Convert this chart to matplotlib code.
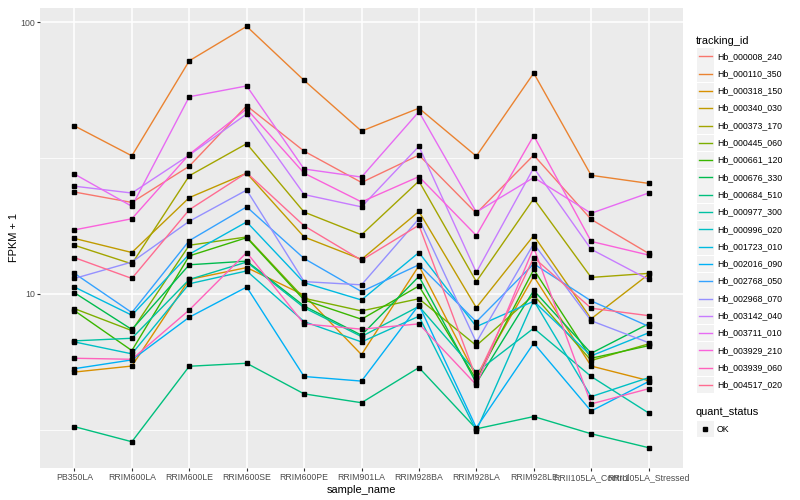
import numpy as np
import matplotlib.pyplot as plt
from matplotlib.lines import Line2D
from matplotlib.patches import Rectangle
from matplotlib.ticker import NullFormatter

plt.rcParams['font.family'] = ['Liberation Sans', 'DejaVu Sans']

samples = ["PB350LA", "RRIM600LA", "RRIM600LE", "RRIM600SE", "RRIM600PE", "RRIM901LA",
           "RRIM928BA", "RRIM928LA", "RRIM928LE", "RRII105LA_Control", "RRII105LA_Stressed"]

tracking_ids = ["Hb_000008_240", "Hb_000110_350", "Hb_000318_150", "Hb_000340_030",
                "Hb_000373_170", "Hb_000445_060", "Hb_000661_120", "Hb_000676_330",
                "Hb_000684_510", "Hb_000977_300", "Hb_000996_020", "Hb_001723_010",
                "Hb_002016_090", "Hb_002768_050", "Hb_002968_070", "Hb_003142_040",
                "Hb_003711_010", "Hb_003929_210", "Hb_003939_060", "Hb_004517_020"]

# FPKM + 1 per sample
hb_000008_240 = [23.7, 21.7, 29.5, 49.2, 33.5, 25.7, 32.4, 19.8, 32.4, 18.8, 14.1]
hb_000110_350 = [41.5, 32.2, 72.0, 96.4, 61.0, 39.7, 48.2, 32.1, 64.9, 27.3, 25.5]
hb_000318_150 = [5.16, 5.43, 11.3, 12.5, 9.9, 5.98, 12.7, 4.97, 11.6, 5.43, 4.80]
hb_000340_030 = [16.0, 14.2, 22.6, 27.8, 16.2, 13.4, 20.1, 8.9, 16.4, 8.1, 11.8]
hb_000373_170 = [15.1, 12.9, 27.2, 35.7, 20.0, 16.5, 26.0, 11.1, 22.4, 11.5, 11.9]
hb_000445_060 = [8.83, 7.33, 15.1, 16.2, 9.64, 8.66, 9.6, 6.46, 9.9, 5.69, 6.55]
hb_000661_120 = [8.68, 6.19, 13.8, 16.1, 9.5, 8.07, 10.7, 4.84, 12.3, 5.80, 6.45]
hb_000676_330 = [10.1, 7.4, 12.8, 13.2, 9.03, 7.05, 11.6, 4.70, 10.3, 6.05, 7.76]
hb_000684_510 = [3.25, 2.86, 5.42, 5.56, 4.29, 3.98, 5.36, 3.19, 3.54, 3.06, 2.72]
hb_000977_300 = [6.72, 6.87, 11.3, 13.1, 8.9, 6.97, 9.0, 5.15, 7.48, 4.97, 3.65]
hb_000996_020 = [6.66, 6.02, 10.9, 12.15, 7.91, 6.66, 8.28, 3.14, 9.45, 4.19, 4.92]
hb_001723_010 = [10.6, 8.35, 14.0, 18.4, 11.0, 9.5, 14.2, 7.58, 9.4, 5.92, 7.19]
hb_002016_090 = [5.31, 5.72, 8.21, 10.6, 4.97, 4.78, 9.11, 3.22, 6.59, 3.71, 4.76]
hb_002768_050 = [11.9, 8.54, 15.7, 20.9, 13.5, 10.2, 12.8, 7.9, 12.9, 9.43, 7.6]
hb_002968_070 = [11.4, 13.1, 18.5, 24.1, 11.1, 10.8, 18.9, 6.64, 15.3, 7.97, 6.62]
hb_003142_040 = [24.9, 23.5, 32.4, 45.9, 23.2, 20.9, 34.9, 12.0, 29.1, 14.6, 11.3]
hb_003711_010 = [27.6, 21.0, 53.1, 58.2, 28.8, 26.9, 46.8, 20.0, 26.8, 19.8, 23.5]
hb_003929_210 = [17.2, 18.9, 32.6, 47.9, 27.8, 21.8, 27.0, 16.4, 38.2, 15.6, 13.9]
hb_003939_060 = [5.80, 5.75, 8.73, 14.2, 7.76, 7.42, 7.76, 4.63, 14.8, 3.94, 4.48]
hb_004517_020 = [13.6, 11.4, 20.4, 27.9, 17.8, 13.3, 17.9, 4.9, 13.6, 8.86, 8.32]

series = [hb_000008_240, hb_000110_350, hb_000318_150, hb_000340_030, hb_000373_170,
          hb_000445_060, hb_000661_120, hb_000676_330, hb_000684_510, hb_000977_300,
          hb_000996_020, hb_001723_010, hb_002016_090, hb_002768_050, hb_002968_070,
          hb_003142_040, hb_003711_010, hb_003929_210, hb_003939_060, hb_004517_020]

palette = ["#F8766D", "#EA8331", "#D89000", "#C09B00", "#A3A500", "#7CAE00", "#39B600",
           "#00BB4E", "#00BF7D", "#00C1A3", "#00BFC4", "#00BAE0", "#00B0F6", "#35A2FF",
           "#9590FF", "#C77CFF", "#E76BF3", "#FA62DB", "#FF62BC", "#FF6C91"]

W, H = 800, 500


def fx(x):
    return x / W


def fy(y):
    return 1 - y / H


fig = plt.figure(figsize=(8, 5), dpi=100)
ax = fig.add_axes([fx(40), fy(468), (683 - 40) / W, (468 - 8) / H])

x = np.arange(len(samples))
for vals, col in zip(series, palette):
    ax.plot(x, vals, color=col, lw=1.0, zorder=2)
for vals in series:
    ax.plot(x, vals, ls='none', marker='s', ms=2.3, color='black', zorder=3)

ax.set_yscale('log')
ax.set_ylim(2.29, 112.6)
ax.set_xlim(-0.6, len(samples) - 0.4)
ax.set_yticks([10, 100])
ax.set_yticklabels(['10', '100'])
ax.set_yticks([10 ** 0.5, 10 ** 1.5], minor=True)
ax.yaxis.set_minor_formatter(NullFormatter())
ax.set_xticks(x)
ax.set_xticklabels(samples)

ax.set_facecolor('#EBEBEB')
ax.set_axisbelow(True)
ax.grid(which='major', color='white', lw=1.1)
ax.grid(which='minor', axis='y', color='white', lw=0.55)
for s in ax.spines.values():
    s.set_visible(False)
ax.tick_params(which='major', length=2, width=0.8, color='#333333',
               labelcolor='#4D4D4D', labelsize=6.3, pad=1.8)
ax.tick_params(which='minor', length=0)
ax.set_xlabel('sample_name', fontsize=7.9, labelpad=2)
ax.set_ylabel('FPKM + 1', fontsize=7.9, labelpad=1)

# legend: tracking_id
fig.text(fx(696), fy(40.7), 'tracking_id', fontsize=7.9, va='center', ha='left')
for i, (tid, col) in enumerate(zip(tracking_ids, palette)):
    yc = 56.3 + i * 17.3
    fig.add_artist(Rectangle((fx(697), fy(yc + 8.3)), 16.5 / W, 16.6 / H,
                             transform=fig.transFigure, facecolor='#F2F2F2',
                             edgecolor='none'))
    fig.add_artist(Line2D([fx(699), fx(711.5)], [fy(yc), fy(yc)],
                          transform=fig.transFigure, color=col, lw=1.0))
    fig.text(fx(717), fy(yc), tid, fontsize=6.3, va='center', ha='left')

# legend: quant_status
fig.text(fx(696), fy(412.3), 'quant_status', fontsize=7.9, va='center', ha='left')
fig.add_artist(Rectangle((fx(697), fy(429 + 8.3)), 16.5 / W, 16.6 / H,
                         transform=fig.transFigure, facecolor='#F2F2F2', edgecolor='none'))
fig.add_artist(Line2D([fx(705)], [fy(429)], transform=fig.transFigure, ls='none',
                      marker='s', ms=2.3, color='black'))
fig.text(fx(717), fy(429), 'OK', fontsize=6.3, va='center', ha='left')

fig.savefig('out.png', dpi=100)
